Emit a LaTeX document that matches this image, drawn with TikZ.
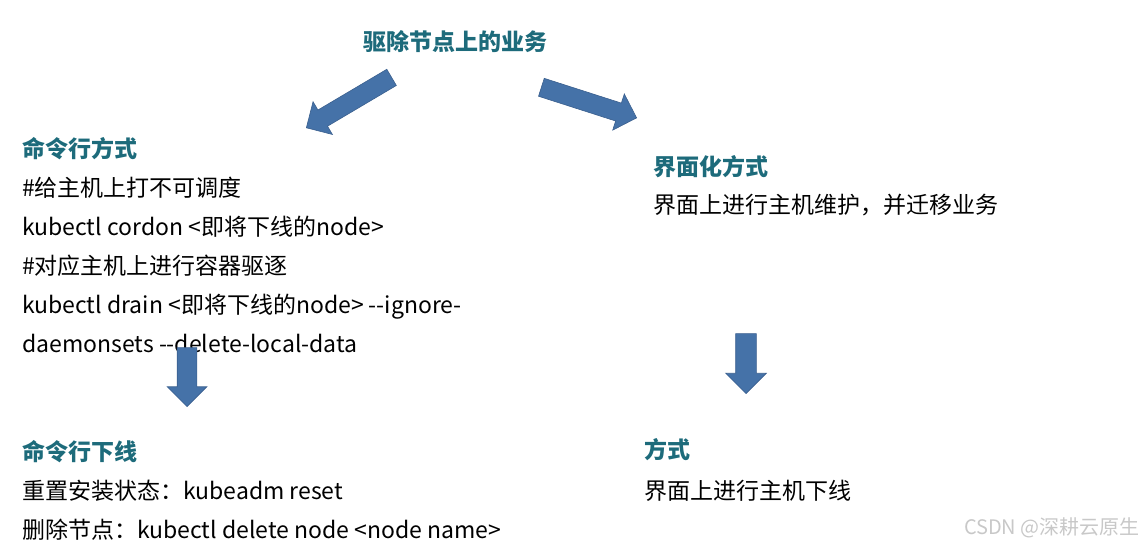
\documentclass[tikz,border=0pt]{standalone}
\usepackage{fontspec}
\setmainfont{Noto Sans CJK SC}
\usetikzlibrary{shapes.arrows}
\usetikzlibrary{positioning}
\usepackage{xcolor}
\definecolor{headteal}{HTML}{1D6B7B}
\definecolor{arrowblue}{HTML}{4572A8}
\definecolor{arrowedge}{HTML}{3A5F8E}
\definecolor{markgray}{HTML}{C8C8C8}

\tikzset{
  head/.style={font=\fontsize{23}{28}\selectfont\bfseries, text=headteal, inner sep=0pt, anchor=base west},
  body/.style={font=\fontsize{23}{28}\selectfont, inner sep=0pt, anchor=base west},
  fat/.style={single arrow, draw=arrowedge, fill=arrowblue, line width=0.6pt, inner xsep=0pt, inner ysep=9pt,
    minimum width=38pt, single arrow head extend=9.5pt, anchor=tip}
}

\begin{document}
\begin{tikzpicture}[x=1pt, y=1pt]
    \useasboundingbox (0,0) rectangle (1145,546);
    % title
    \node[head, anchor=center] (evict) at (455,504) {驱除节点上的业务};

    % big arrows from the title
    \node[fat, minimum height=99pt, rotate=210.6] (arrL) at (306,418) {};
    \node[fat, minimum height=100pt, rotate=-17.8] (arrR) at (637,428) {};

    % command line way
    \node[head] (cliHead) at (22,388) {命令行方式};
    \node[body] (cli1) at ([yshift=-39pt]cliHead.base west) {\#给主机上打不可调度};
    \node[body] (cli2) at ([yshift=-39pt]cli1.base west) {kubectl cordon <即将下线的node>};
    \node[body] (cli3) at ([yshift=-39pt]cli2.base west) {\#对应主机上进行容器驱逐};
    \node[body] (cli4) at ([yshift=-39pt]cli3.base west) {kubectl drain <即将下线的node> -{}-ignore-};
    \node[body] (cli5) at ([yshift=-39pt]cli4.base west) {daemonsets -{}-delete-local-data};

    % web ui way
    \node[head] (uiHead) at (653,370) {界面化方式};
    \node[body] (ui1) at ([yshift=-38pt]uiHead.base west) {界面上进行主机维护，并迁移业务};

    % down arrows
    \node[fat, minimum height=59pt, minimum width=39pt, inner ysep=9.5pt, single arrow head extend=10pt, rotate=-90] (downL) at (187,139) {};
    \node[fat, minimum height=60pt, minimum width=39pt, inner ysep=10pt, single arrow head extend=10pt, rotate=-90] (downR) at (746,152) {};

    % command line offline
    \node[head] (offHead) at (22,85) {命令行下线};
    \node[body] (off1) at ([yshift=-38.5pt]offHead.base west) {重置安装状态：kubeadm reset};
    \node[body] (off2) at ([yshift=-38.5pt]off1.base west) {删除节点：kubectl delete node <node name>};

    % ui offline
    \node[head] (wayHead) at (644,87) {方式};
    \node[body] (way1) at ([yshift=-40pt]wayHead.base west) {界面上进行主机下线};

    % watermark
    \node[font=\fontsize{20}{24}\selectfont, text=markgray, inner sep=0pt, anchor=base east] (mark) at (1140,12) {CSDN @深耕云原生};
\end{tikzpicture}
\end{document}
